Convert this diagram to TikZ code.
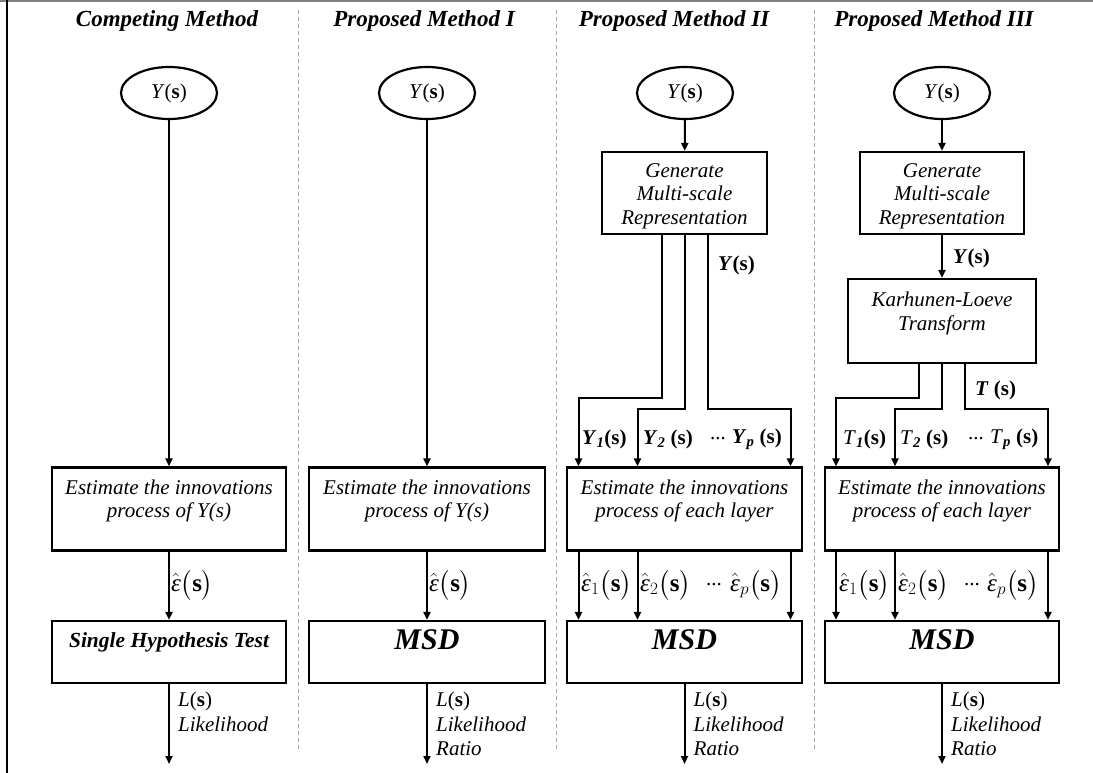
\documentclass[tikz,border=0pt]{standalone}
\usepackage{amsmath}
\usepackage{fontspec}
\setmainfont{Liberation Serif}
\usetikzlibrary{arrows.meta,positioning,shapes.geometric}

\tikzset{
  box/.style={draw, line width=2.2pt, inner sep=0pt},
  oval/.style={draw, ellipse, line width=2.2pt, minimum width=96pt, minimum height=52pt, inner sep=0pt, font=\fontsize{21}{24}\selectfont},
  conn/.style={line width=2pt, -{Triangle[length=8pt,width=7pt]}},
  txt/.style={align=center, inner sep=0pt, font=\fontsize{21}{23.5}\selectfont\itshape},
  head/.style={font=\fontsize{23}{27}\selectfont\bfseries\itshape},
  msd/.style={inner sep=0pt, font=\fontsize{30}{34}\selectfont\bfseries\itshape},
  lbl/.style={inner sep=0pt, anchor=west, font=\fontsize{21}{24}\selectfont},
  elbl/.style={inner sep=0pt, anchor=west, font=\fontsize{25}{28}\selectfont},
  outtext/.style={inner sep=0pt, anchor=north west, align=left, font=\fontsize{21}{24.5}\selectfont\itshape},
  sep/.style={gray!70, line width=0.8pt, dash pattern=on 4pt off 3pt},
}
\newcommand{\Ys}{\textit{Y}(\textbf{s})}
\newcommand{\Ls}{{\upshape\textit{L}(\textbf{s})}}
\newcommand{\epsh}[1]{$\hat{\textit{ε}}#1\bigl(\textbf{s}\bigr)$}

\begin{document}
\begin{tikzpicture}[x=1pt,y=-1pt]
  \useasboundingbox (0,0) rectangle (1093,773);
  \draw[gray, line width=2pt] (0,1) -- (1093,1);
  \draw[line width=1.5pt] (7,0) -- (7,773);
  \foreach \x in {298,556,814}
    \draw[sep] (\x,10) -- (\x,750);
  \coordinate (lv1) at (0,398);
  \coordinate (lv2) at (0,409);

  % headings
  \node[head] (h1) at (167,21) {Competing Method};
  \node[head] (h2) at (424,21) {Proposed Method I};
  \node[head] (h3) at (674,21) {Proposed Method II};
  \node[head] (h4) at (934,21) {Proposed Method III};

  % competing method
  \node[oval] (y1) at (169,93) {\Ys};
  \node[box, minimum width=234pt, minimum height=83pt] (est1) at (169,509) {};
  \node[txt, below=13pt of est1.north] (est1t) {Estimate the innovations\\process of Y(s)};
  \node[box, minimum width=234pt, minimum height=62pt] (sht) at (169,652) {};
  \node[inner sep=0pt, font=\fontsize{21.5}{24}\selectfont\bfseries\itshape, below=12pt of sht.north] (shtt) {Single Hypothesis Test};
  \coordinate (o1) at (169,764);
  \draw[conn] (y1) -- (est1);
  \draw[conn] (est1) -- (sht) node[elbl, midway, right=1pt] {\epsh{}};
  \draw[conn] (sht) -- (o1);
  \node[outtext] (r1) at ([xshift=9pt,yshift=-8pt]sht.south) {\Ls\\Likelihood};

  % proposed method I
  \node[oval] (y2) at (427,93) {\Ys};
  \node[box, minimum width=236pt, minimum height=83pt] (est2) at (427,509) {};
  \node[txt, below=13pt of est2.north] (est2t) {Estimate the innovations\\process of Y(s)};
  \node[box, minimum width=236pt, minimum height=62pt] (msd2) at (427,652) {};
  \node[msd, below=10pt of msd2.north] (msd2t) {MSD};
  \coordinate (o2) at (427,764);
  \draw[conn] (y2) -- (est2);
  \draw[conn] (est2) -- (msd2) node[elbl, midway, right=1pt] {\epsh{}};
  \draw[conn] (msd2) -- (o2);
  \node[outtext] (r2) at ([xshift=9pt,yshift=-8pt]msd2.south) {\Ls\\Likelihood\\Ratio};

  % proposed method II
  \node[oval] (y3) at (685,93) {\Ys};
  \node[box, minimum width=165pt, minimum height=82pt] (ms3) at (684.5,193) {};
  \node[txt, below=12pt of ms3.north] (ms3t) {Generate\\Multi-scale\\Representation};
  \node[box, minimum width=235pt, minimum height=83pt] (est3) at (684.5,509) {};
  \node[txt, below=13pt of est3.north] (est3t) {Estimate the innovations\\process of each layer};
  \node[box, minimum width=235pt, minimum height=62pt] (msd3) at (684.5,652) {};
  \node[msd, below=10pt of msd3.north] (msd3t) {MSD};
  \draw[conn] (y3) -- (ms3);
  \coordinate (a31) at ([xshift=-23pt]ms3.south);
  \coordinate (a32) at (ms3.south);
  \coordinate (a33) at ([xshift=23pt]ms3.south);
  \coordinate (b31) at ([xshift=-106pt]est3.north);
  \coordinate (b32) at ([xshift=-47pt]est3.north);
  \coordinate (b33) at ([xshift=106pt]est3.north);
  \draw[conn] (a31) -- (a31 |- lv1) -| (b31);
  \draw[conn] (a32) -- (a32 |- lv2) -| (b32);
  \draw[conn] (a33) -- (a33 |- lv2) -| (b33);
  \node[lbl] (ly3) at (718,265) {\textbf{\textit{Y}(s)}};
  \node[lbl] (l31) at (582,439) {\textbf{\textit{Y}\textsubscript{\textit{1}}(s)}};
  \node[lbl] (l32) at (643,439) {\textbf{\textit{Y}\textsubscript{\textit{2}} (s)}};
  \node[lbl] (l3d) at (710,439) {...};
  \node[lbl] (l3p) at (732,439) {\textbf{\textit{Y}\textsubscript{\textit{p}} (s)}};
  \foreach \s in {-106,-47,106}
    \draw[conn] ([xshift=\s pt]est3.south) -- ([xshift=\s pt]msd3.north);
  \node[elbl] (e31) at (581,585) {\epsh{_1}};
  \node[elbl] (e32) at (640,585) {\epsh{_2}};
  \node[lbl] (e3d) at (706,585) {...};
  \node[elbl] (e3p) at (730,585) {\epsh{_p}};
  \coordinate (o3) at (684.5,764);
  \draw[conn] (msd3) -- (o3);
  \node[outtext] (r3) at ([xshift=9pt,yshift=-8pt]msd3.south) {\Ls\\Likelihood\\Ratio};

  % proposed method III
  \node[oval] (y4) at (942,93) {\Ys};
  \node[box, minimum width=164pt, minimum height=82pt] (ms4) at (942,193) {};
  \node[txt, below=12pt of ms4.north] (ms4t) {Generate\\Multi-scale\\Representation};
  \node[box, minimum width=188pt, minimum height=84pt] (kl4) at (942,321) {};
  \node[txt, below=14pt of kl4.north] (kl4t) {Karhunen-Loeve\\Transform};
  \node[box, minimum width=234pt, minimum height=83pt] (est4) at (942,509) {};
  \node[txt, below=13pt of est4.north] (est4t) {Estimate the innovations\\process of each layer};
  \node[box, minimum width=234pt, minimum height=62pt] (msd4) at (942,652) {};
  \node[msd, below=10pt of msd4.north] (msd4t) {MSD};
  \draw[conn] (y4) -- (ms4);
  \draw[conn] (ms4) -- (kl4);
  \node[lbl] (ly4) at (953,258) {\textbf{\textit{Y}(s)}};
  \coordinate (a41) at ([xshift=-23pt]kl4.south);
  \coordinate (a42) at (kl4.south);
  \coordinate (a43) at ([xshift=23pt]kl4.south);
  \coordinate (b41) at ([xshift=-106pt]est4.north);
  \coordinate (b42) at ([xshift=-47pt]est4.north);
  \coordinate (b43) at ([xshift=106pt]est4.north);
  \draw[conn] (a41) -- (a41 |- lv1) -| (b41);
  \draw[conn] (a42) -- (a42 |- lv2) -| (b42);
  \draw[conn] (a43) -- (a43 |- lv2) -| (b43);
  \node[lbl] (lt4) at (975,390) {\textbf{\textit{T} (s)}};
  \node[lbl] (l41) at (843,439) {\textit{T}\textsubscript{\textbf{\textit{1}}}\textbf{(s)}};
  \node[lbl] (l42) at (900,439) {\textit{T}\textsubscript{\textbf{\textit{2}}} \textbf{(s)}};
  \node[lbl] (l4d) at (968,439) {...};
  \node[lbl] (l4p) at (990,439) {\textit{T}\textsubscript{\textbf{\textit{p}}} \textbf{(s)}};
  \foreach \s in {-106,-47,106}
    \draw[conn] ([xshift=\s pt]est4.south) -- ([xshift=\s pt]msd4.north);
  \node[elbl] (e41) at (839,585) {\epsh{_1}};
  \node[elbl] (e42) at (898,585) {\epsh{_2}};
  \node[lbl] (e4d) at (964,585) {...};
  \node[elbl] (e4p) at (987,585) {\epsh{_p}};
  \coordinate (o4) at (942,764);
  \draw[conn] (msd4) -- (o4);
  \node[outtext] (r4) at ([xshift=9pt,yshift=-8pt]msd4.south) {\Ls\\Likelihood\\Ratio};
\end{tikzpicture}
\end{document}
